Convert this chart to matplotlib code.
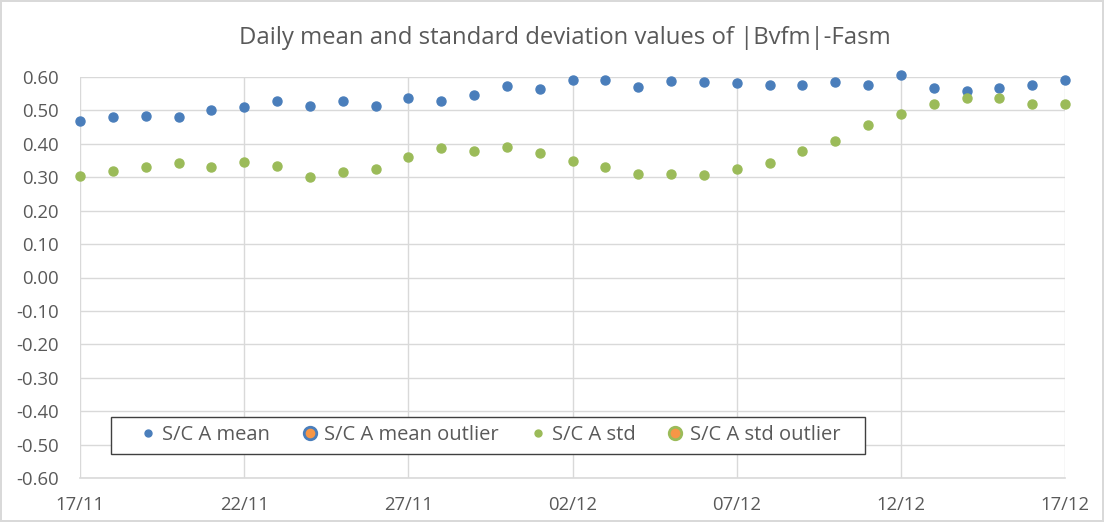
#!/usr/bin/env python3
"""Daily mean / std of |Bvfm|-Fasm, Excel-style scatter."""

import matplotlib
matplotlib.use("Agg")
import matplotlib.pyplot as plt
import matplotlib.dates as mdates
from matplotlib.lines import Line2D
from matplotlib.patches import Rectangle
import pandas as pd

days = pd.date_range("2018-11-17", "2018-12-17", freq="D")

sc_a_mean = [
    0.468, 0.481, 0.483, 0.479, 0.501, 0.509, 0.527, 0.512, 0.528, 0.514,
    0.536, 0.528, 0.545, 0.572, 0.565, 0.590, 0.590, 0.569, 0.587, 0.585,
    0.583, 0.575, 0.575, 0.585, 0.577, 0.605, 0.567, 0.558, 0.566, 0.575,
    0.592,
]
sc_a_std = [
    0.305, 0.318, 0.331, 0.344, 0.331, 0.347, 0.333, 0.300, 0.315, 0.325,
    0.360, 0.388, 0.380, 0.391, 0.373, 0.350, 0.331, 0.309, 0.311, 0.307,
    0.325, 0.344, 0.378, 0.408, 0.455, 0.490, 0.519, 0.538, 0.538, 0.519,
    0.519,
]
# outlier series are empty in this period
mean_outlier = []
std_outlier = []

BLUE = "#4a7ebb"
GREEN = "#9bbb59"
ORANGE = "#f79646"
TXT = "#595959"
GRID = "#d9d9d9"
W, H = 1104, 522

plt.rcParams["font.family"] = ["Open Sans", "DejaVu Sans"]

fig = plt.figure(figsize=(W / 100, H / 100), dpi=100)
fig.patch.set_edgecolor(GRID)
fig.patch.set_linewidth(1.5)
ax = fig.add_axes([80 / W, 44 / H, 985 / W, 401 / H])

ax.plot(days, sc_a_mean, ls="none", marker="o", ms=6.5, color=BLUE, mec=BLUE, clip_on=False, zorder=3)
ax.plot(days, sc_a_std, ls="none", marker="o", ms=6.5, color=GREEN, mec=GREEN, clip_on=False, zorder=3)
ax.plot(days[:len(mean_outlier)], mean_outlier, ls="none", marker="o", color=ORANGE, mec=BLUE)
ax.plot(days[:len(std_outlier)], std_outlier, ls="none", marker="o", color=ORANGE, mec=GREEN)

ax.set_ylim(-0.6, 0.6)
ax.set_yticks([i / 10 for i in range(-6, 7)])
ax.yaxis.set_major_formatter(plt.FuncFormatter(lambda v, _: f"{v:.2f}"))
ax.set_xlim(days[0], days[-1])
ax.set_xticks(days[::5])
ax.xaxis.set_major_formatter(mdates.DateFormatter("%d/%m"))

ax.grid(True, color=GRID, lw=1)
ax.set_axisbelow(True)
for side in ("top", "right", "left"):
    ax.spines[side].set_visible(False)
ax.spines["bottom"].set_color(GRID)
ax.spines["bottom"].set_linewidth(1.2)
ax.tick_params(length=0, colors=TXT, labelsize=13.3)
ax.tick_params(axis="y", pad=15)
ax.tick_params(axis="x", pad=13)

fig.text(565 / W, 1 - 38 / H, "Daily mean and standard deviation values of |Bvfm|-Fasm",
         ha="center", va="center", fontsize=17.2, color=TXT)

handles = [
    Line2D([], [], ls="none", marker="o", ms=5, color=BLUE),
    Line2D([], [], ls="none", marker="o", ms=9, color=ORANGE, mec=BLUE, mew=2),
    Line2D([], [], ls="none", marker="o", ms=5, color=GREEN),
    Line2D([], [], ls="none", marker="o", ms=9, color=ORANGE, mec=GREEN, mew=2),
]
labels = ["S/C A mean", "S/C A mean outlier", "S/C A std", "S/C A std outlier"]
fig.add_artist(Rectangle((111 / W, 68 / H), 754 / W, 37 / H, transform=fig.transFigure,
                         facecolor="white", edgecolor="#404040", lw=1.0, zorder=4))
leg = fig.legend(handles, labels, ncol=4, loc="center left",
                 bbox_to_anchor=(138 / W, 70 / H, 702 / W, 34 / H),
                 mode="expand", frameon=False, fontsize=14.5, labelcolor=TXT,
                 borderpad=0, borderaxespad=0, handletextpad=0.2, handlelength=1.0)
leg.set_zorder(5)

fig.savefig("out.png", dpi=100)
